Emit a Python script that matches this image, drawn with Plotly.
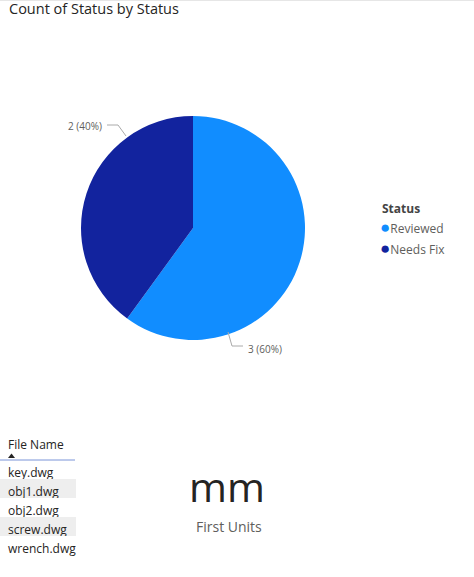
import plotly.graph_objects as go

# ---- data ----
status_labels = ["Reviewed", "Needs Fix"]
status_counts = [3, 2]
file_names = ["key.dwg", "obj1.dwg", "obj2.dwg", "screw.dwg", "wrench.dwg"]
card_value = "mm"
card_label = "First Units"

# ---- style ----
W, H = 474, 577
colors = ["#118DFF", "#12239E"]
FONT = "Segoe UI, Open Sans, sans-serif"
TXT = "#252423"
GRAY = "#605E5C"

def px(x):
    return x / W

def py(y):
    return 1 - y / H

fig = go.Figure()

# Pie
fig.add_trace(go.Pie(
    labels=status_labels, values=status_counts, sort=False,
    direction="clockwise", rotation=0,
    marker=dict(colors=colors, line=dict(width=0)),
    textinfo="none", hoverinfo="skip", showlegend=False,
    domain=dict(x=[px(81), px(305)], y=[py(340), py(116)]),
))

# Table
row_fills = ["white" if i % 2 == 0 else "#EEEEEE" for i in range(len(file_names))]
fig.add_trace(go.Table(
    domain=dict(x=[0, px(76)], y=[py(565), py(432)]),
    columnwidth=[1],
    header=dict(values=["File Name"], align="left", height=28,
                fill_color="white", line=dict(width=0),
                font=dict(family=FONT, size=12, color=TXT)),
    cells=dict(values=[file_names], align="left", height=19,
               fill_color=[row_fills], line=dict(width=0),
               font=dict(family=FONT, size=12, color=TXT)),
))

annotations = []
shapes = []

# Title
annotations.append(dict(text="Count of Status by Status", x=px(7), y=py(9),
                        xref="paper", yref="paper", xanchor="left", yanchor="middle",
                        showarrow=False, font=dict(family=FONT, size=14.5, color=TXT)))

# Pie data labels
total = sum(status_counts)
pie_label_pos = [  # (text anchor x, y, xanchor)  for Reviewed, Needs Fix
    (246, 349, "left"),
    (104, 126, "right"),
]
for (lx, ly, anc), v in zip(pie_label_pos, status_counts):
    annotations.append(dict(text=f"{v} ({v/total:.0%})", x=px(lx), y=py(ly),
                            xref="paper", yref="paper", xanchor=anc, yanchor="middle",
                            showarrow=False, font=dict(family=FONT, size=10, color=GRAY)))
leader_paths = [
    [(228, 332), (232, 346), (243, 346)],
    [(126, 136), (118, 125), (107, 125)],
]
for pts in leader_paths:
    d = "M " + " L ".join(f"{px(x)} {py(y)}" for x, y in pts)
    shapes.append(dict(type="path", path=d, xref="paper", yref="paper",
                       line=dict(color="#AAAAAA", width=1)))

# Legend
annotations.append(dict(text="<b>Status</b>", x=px(380), y=py(208),
                        xref="paper", yref="paper", xanchor="left", yanchor="middle",
                        showarrow=False, font=dict(family=FONT, size=12, color="#444444")))
for i, (lab, c) in enumerate(zip(status_labels, colors)):
    yy = 226 + i * 22
    annotations.append(dict(text=f"<span style='color:{c};font-size:17px'>●</span>{lab}",
                            x=px(378), y=py(yy),
                            xref="paper", yref="paper", xanchor="left", yanchor="middle",
                            showarrow=False, font=dict(family=FONT, size=12, color=GRAY)))

# Table sort arrow (triangle) & header underline
tri = [(8, 458), (11.5, 453.5), (15, 458)]
shapes.append(dict(type="path",
                   path="M " + " L ".join(f"{px(x)} {py(y)}" for x, y in tri) + " Z",
                   xref="paper", yref="paper", fillcolor=TXT, line=dict(width=0)))
shapes.append(dict(type="line", x0=0, x1=px(75), y0=py(460), y1=py(460),
                   xref="paper", yref="paper", line=dict(color="#7A94D8", width=1)))

# Card
annotations.append(dict(text=card_value, x=px(227), y=py(486), xref="paper", yref="paper",
                        xanchor="center", yanchor="middle", showarrow=False,
                        font=dict(family=FONT, size=41, color=TXT)))
annotations.append(dict(text=card_label, x=px(229), y=py(526), xref="paper", yref="paper",
                        xanchor="center", yanchor="middle", showarrow=False,
                        font=dict(family=FONT, size=14, color=GRAY)))

# top shadow line
shapes.append(dict(type="line", x0=0, x1=1, y0=py(0.5), y1=py(0.5), xref="paper", yref="paper",
                   line=dict(color="#E6E6E6", width=1)))

fig.update_layout(
    width=W, height=H, margin=dict(l=0, r=0, t=0, b=0),
    paper_bgcolor="white", plot_bgcolor="white",
    annotations=annotations, shapes=shapes, showlegend=False,
)

fig.write_html(
    "out.html",
    config={"displayModeBar": False},
    post_script="document.body.style.margin='0px';document.body.style.overflow='hidden';"
                "document.documentElement.style.overflow='hidden';",
)
